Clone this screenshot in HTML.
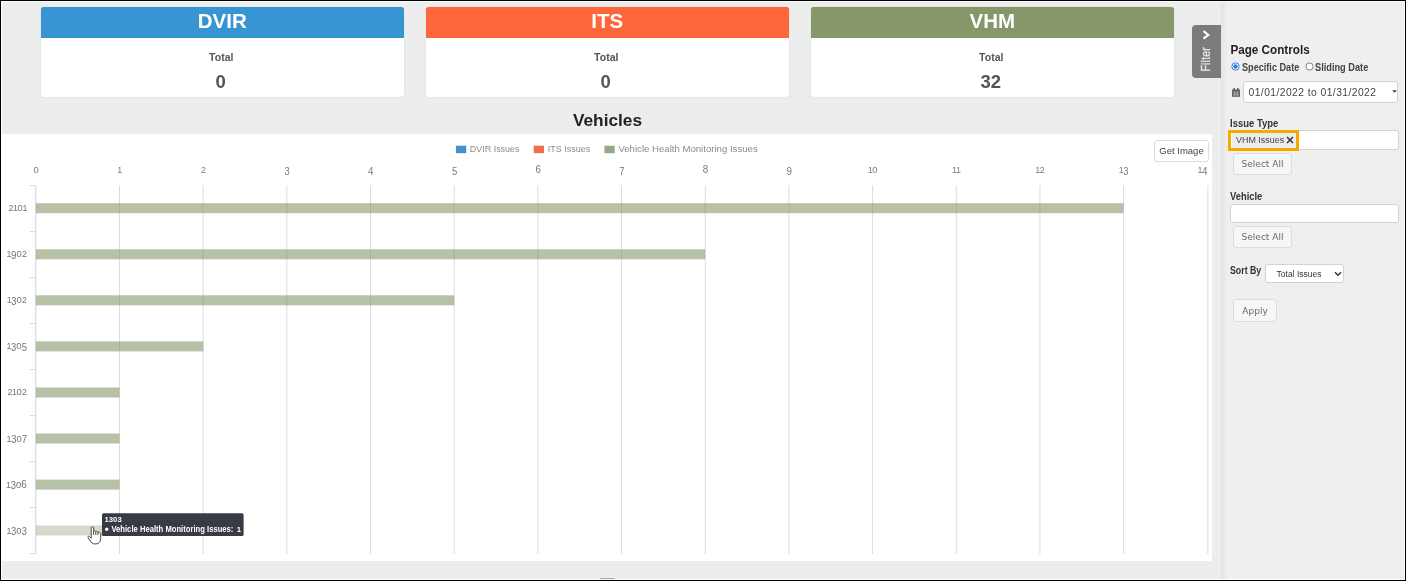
<!DOCTYPE html>
<html lang="en">
<head>
<meta charset="utf-8">
<title>Vehicles</title>
<style>
*{box-sizing:border-box;margin:0;padding:0}
html,body{width:1406px;height:581px;overflow:hidden}
body{position:relative;background:#eceeed;font-family:"Liberation Sans",sans-serif;color:#333}
.abs{position:absolute}
#frame{position:absolute;left:0;top:0;width:1406px;height:581px;border:1px solid #000;box-shadow:inset 0 0 0 1px rgba(255,255,255,.85);z-index:50;pointer-events:none}
.card{position:absolute;top:7px;height:90px;width:362.500px;background:#fff;border-radius:2.500px;overflow:hidden;box-shadow:0 0 1px rgba(0,0,0,.25)}
.card .hd{height:31px;color:#fff;font-weight:bold;font-size:20.5px;line-height:31px;text-align:center}
.card .hd span{position:relative;top:-2px}
.card .tl{position:absolute;left:-2px;right:0;top:43px;text-align:center;font-weight:bold;font-size:10.5px;line-height:14px;color:#555}
.card .vl{position:absolute;left:-3px;right:0;top:65px;text-align:center;font-weight:bold;font-size:18.5px;line-height:20px;color:#555}
#title{position:absolute;left:1px;width:1213px;top:110px;text-align:center;font-weight:bold;font-size:17.300px;transform:translateY(-.700px);line-height:22px;color:#222}
#chart{position:absolute;left:1px;top:134px;width:1211px;height:427px;background:#fff}
#side{position:absolute;left:1221px;top:1px;width:184px;height:579px;background:linear-gradient(to right,#e3e3e3 0,#e9e9e9 3px,#efefef 7px,#efefef 100%)}
#ftab{position:absolute;left:1192px;top:25px;width:29px;height:53px;background:#7b7b7b;border-radius:4px 0 0 4px}

#getimg{position:absolute;left:1154px;top:140px;width:55px;height:22px;background:#fff;border:1px solid #dcdcdc;border-radius:3px;font-size:9.5px;line-height:20px;text-align:center;color:#444;white-space:nowrap}
#ftab svg{position:absolute;left:0;top:0}
.lbl{position:absolute;left:1230px;font-weight:bold;font-size:9.5px;line-height:12px;color:#333;white-space:nowrap;transform-origin:0 50%}
.inp{position:absolute;background:#fff;border:1px solid #d2d2d2;border-radius:3px}
.btn{position:absolute;background:#f6f6f6;border:1px solid #dcdcdc;border-radius:3px;color:#6a6a6a;font-family:"DejaVu Sans","Liberation Sans",sans-serif;font-size:9px;text-align:center;white-space:nowrap}
</style>
</head>
<body>
<div class="card" style="left:41px"><div class="hd" style="background:#3895d3"><span>DVIR</span></div><div class="tl">Total</div><div class="vl">0</div></div>
<div class="card" style="left:425.500px;width:363.500px"><div class="hd" style="background:#fe663b"><span>ITS</span></div><div class="tl">Total</div><div class="vl">0</div></div>
<div class="card" style="left:811px"><div class="hd" style="background:#86986a"><span>VHM</span></div><div class="tl">Total</div><div class="vl">32</div></div>
<div id="title">Vehicles</div>
<div id="chart"><svg id="csvg" width="1211" height="427" viewBox="1 134 1211 427" style="position:absolute;left:0;top:0;font-family:'Liberation Sans',sans-serif">
<line x1="35.80" y1="185.5" x2="35.80" y2="554" stroke="#cfcfdf" stroke-width="1"/>
<line x1="119.48" y1="185.5" x2="119.48" y2="554" stroke="#dbdbdb" stroke-width="1"/>
<line x1="203.16" y1="185.5" x2="203.16" y2="554" stroke="#dbdbdb" stroke-width="1"/>
<line x1="286.84" y1="185.5" x2="286.84" y2="554" stroke="#dbdbdb" stroke-width="1"/>
<line x1="370.52" y1="185.5" x2="370.52" y2="554" stroke="#dbdbdb" stroke-width="1"/>
<line x1="454.20" y1="185.5" x2="454.20" y2="554" stroke="#dbdbdb" stroke-width="1"/>
<line x1="537.88" y1="185.5" x2="537.88" y2="554" stroke="#dbdbdb" stroke-width="1"/>
<line x1="621.56" y1="185.5" x2="621.56" y2="554" stroke="#dbdbdb" stroke-width="1"/>
<line x1="705.24" y1="185.5" x2="705.24" y2="554" stroke="#dbdbdb" stroke-width="1"/>
<line x1="788.92" y1="185.5" x2="788.92" y2="554" stroke="#dbdbdb" stroke-width="1"/>
<line x1="872.60" y1="185.5" x2="872.60" y2="554" stroke="#dbdbdb" stroke-width="1"/>
<line x1="956.28" y1="185.5" x2="956.28" y2="554" stroke="#dbdbdb" stroke-width="1"/>
<line x1="1039.96" y1="185.5" x2="1039.96" y2="554" stroke="#dbdbdb" stroke-width="1"/>
<line x1="1123.64" y1="185.5" x2="1123.64" y2="554" stroke="#dbdbdb" stroke-width="1"/>
<line x1="1207.90" y1="185.5" x2="1207.90" y2="554" stroke="#dbdbdb" stroke-width="1"/>
<line x1="29.5" y1="185.5" x2="35.8" y2="185.5" stroke="#dedede" stroke-width="1"/>
<line x1="29.5" y1="231.5" x2="35.8" y2="231.5" stroke="#dedede" stroke-width="1"/>
<line x1="29.5" y1="277.5" x2="35.8" y2="277.5" stroke="#dedede" stroke-width="1"/>
<line x1="29.5" y1="323.5" x2="35.8" y2="323.5" stroke="#dedede" stroke-width="1"/>
<line x1="29.5" y1="369.5" x2="35.8" y2="369.5" stroke="#dedede" stroke-width="1"/>
<line x1="29.5" y1="415.5" x2="35.8" y2="415.5" stroke="#dedede" stroke-width="1"/>
<line x1="29.5" y1="461.5" x2="35.8" y2="461.5" stroke="#dedede" stroke-width="1"/>
<line x1="29.5" y1="507.5" x2="35.8" y2="507.5" stroke="#dedede" stroke-width="1"/>
<line x1="29.5" y1="553.5" x2="35.8" y2="553.5" stroke="#dedede" stroke-width="1"/>
<text fill="#7a7a7a"><tspan x="33.45" y="173.20" font-size="8.80" textLength="5.29" lengthAdjust="spacingAndGlyphs">0</tspan></text>
<text fill="#7a7a7a"><tspan x="117.28" y="173.20" font-size="8.80" textLength="5.00" lengthAdjust="spacingAndGlyphs">1</tspan></text>
<text fill="#7a7a7a"><tspan x="201.01" y="173.20" font-size="8.80" textLength="4.90" lengthAdjust="spacingAndGlyphs">2</tspan></text>
<text fill="#7a7a7a"><tspan x="284.52" y="174.50" font-size="10.47" textLength="5.24" lengthAdjust="spacingAndGlyphs">3</tspan></text>
<text fill="#7a7a7a"><tspan x="368.08" y="174.50" font-size="10.47" textLength="5.49" lengthAdjust="spacingAndGlyphs">4</tspan></text>
<text fill="#7a7a7a"><tspan x="451.88" y="174.50" font-size="10.47" textLength="5.24" lengthAdjust="spacingAndGlyphs">5</tspan></text>
<text fill="#7a7a7a"><tspan x="535.44" y="173.20" font-size="10.47" textLength="5.49" lengthAdjust="spacingAndGlyphs">6</tspan></text>
<text fill="#7a7a7a"><tspan x="619.24" y="174.50" font-size="10.47" textLength="5.24" lengthAdjust="spacingAndGlyphs">7</tspan></text>
<text fill="#7a7a7a"><tspan x="702.80" y="173.20" font-size="10.47" textLength="5.49" lengthAdjust="spacingAndGlyphs">8</tspan></text>
<text fill="#7a7a7a"><tspan x="786.48" y="174.50" font-size="10.47" textLength="5.49" lengthAdjust="spacingAndGlyphs">9</tspan></text>
<text fill="#7a7a7a"><tspan x="867.70" y="173.20" font-size="8.80" textLength="5.00" lengthAdjust="spacingAndGlyphs">1</tspan><tspan x="872.25" y="173.20" font-size="8.80" textLength="5.29" lengthAdjust="spacingAndGlyphs">0</tspan></text>
<text fill="#7a7a7a"><tspan x="952.08" y="173.20" font-size="8.80" textLength="5.00" lengthAdjust="spacingAndGlyphs">1</tspan><tspan x="956.08" y="173.20" font-size="8.80" textLength="5.00" lengthAdjust="spacingAndGlyphs">1</tspan></text>
<text fill="#7a7a7a"><tspan x="1035.26" y="173.20" font-size="8.80" textLength="5.00" lengthAdjust="spacingAndGlyphs">1</tspan><tspan x="1039.81" y="173.20" font-size="8.80" textLength="4.90" lengthAdjust="spacingAndGlyphs">2</tspan></text>
<text fill="#7a7a7a"><tspan x="1118.79" y="173.20" font-size="8.80" textLength="5.00" lengthAdjust="spacingAndGlyphs">1</tspan><tspan x="1123.32" y="174.50" font-size="10.47" textLength="5.24" lengthAdjust="spacingAndGlyphs">3</tspan></text>
<text fill="#7a7a7a"><tspan x="1197.40" y="173.20" font-size="8.80" textLength="5.00" lengthAdjust="spacingAndGlyphs">1</tspan><tspan x="1201.96" y="174.50" font-size="10.47" textLength="5.49" lengthAdjust="spacingAndGlyphs">4</tspan></text>
<rect x="35.8" y="203.2" width="1087.8" height="10" fill="#86986a" fill-opacity="0.6"/>
<text fill="#747474"><tspan x="8.55" y="211.20" font-size="8.80" textLength="4.90" lengthAdjust="spacingAndGlyphs">2</tspan><tspan x="13.00" y="211.20" font-size="8.80" textLength="5.00" lengthAdjust="spacingAndGlyphs">1</tspan><tspan x="17.55" y="211.20" font-size="8.80" textLength="5.29" lengthAdjust="spacingAndGlyphs">0</tspan><tspan x="22.40" y="211.20" font-size="8.80" textLength="5.00" lengthAdjust="spacingAndGlyphs">1</tspan></text>
<rect x="35.8" y="249.3" width="669.4" height="10" fill="#86986a" fill-opacity="0.6"/>
<text fill="#747474"><tspan x="6.40" y="257.27" font-size="8.80" textLength="5.00" lengthAdjust="spacingAndGlyphs">1</tspan><tspan x="10.96" y="258.57" font-size="10.47" textLength="5.49" lengthAdjust="spacingAndGlyphs">9</tspan><tspan x="16.55" y="257.27" font-size="8.80" textLength="5.29" lengthAdjust="spacingAndGlyphs">0</tspan><tspan x="21.95" y="257.27" font-size="8.80" textLength="4.90" lengthAdjust="spacingAndGlyphs">2</tspan></text>
<rect x="35.8" y="295.3" width="418.4" height="10" fill="#86986a" fill-opacity="0.6"/>
<text fill="#747474"><tspan x="6.70" y="303.34" font-size="8.80" textLength="5.00" lengthAdjust="spacingAndGlyphs">1</tspan><tspan x="11.23" y="304.64" font-size="10.47" textLength="5.24" lengthAdjust="spacingAndGlyphs">3</tspan><tspan x="16.55" y="303.34" font-size="8.80" textLength="5.29" lengthAdjust="spacingAndGlyphs">0</tspan><tspan x="21.95" y="303.34" font-size="8.80" textLength="4.90" lengthAdjust="spacingAndGlyphs">2</tspan></text>
<rect x="35.8" y="341.4" width="167.4" height="10" fill="#86986a" fill-opacity="0.6"/>
<text fill="#747474"><tspan x="6.40" y="349.41" font-size="8.80" textLength="5.00" lengthAdjust="spacingAndGlyphs">1</tspan><tspan x="10.93" y="350.71" font-size="10.47" textLength="5.24" lengthAdjust="spacingAndGlyphs">3</tspan><tspan x="16.25" y="349.41" font-size="8.80" textLength="5.29" lengthAdjust="spacingAndGlyphs">0</tspan><tspan x="21.63" y="350.71" font-size="10.47" textLength="5.24" lengthAdjust="spacingAndGlyphs">5</tspan></text>
<rect x="35.8" y="387.5" width="83.7" height="10" fill="#86986a" fill-opacity="0.6"/>
<text fill="#747474"><tspan x="7.55" y="395.48" font-size="8.80" textLength="4.90" lengthAdjust="spacingAndGlyphs">2</tspan><tspan x="12.00" y="395.48" font-size="8.80" textLength="5.00" lengthAdjust="spacingAndGlyphs">1</tspan><tspan x="16.55" y="395.48" font-size="8.80" textLength="5.29" lengthAdjust="spacingAndGlyphs">0</tspan><tspan x="21.95" y="395.48" font-size="8.80" textLength="4.90" lengthAdjust="spacingAndGlyphs">2</tspan></text>
<rect x="35.8" y="433.5" width="83.7" height="10" fill="#86986a" fill-opacity="0.6"/>
<text fill="#747474"><tspan x="6.60" y="441.55" font-size="8.80" textLength="5.00" lengthAdjust="spacingAndGlyphs">1</tspan><tspan x="11.13" y="442.85" font-size="10.47" textLength="5.24" lengthAdjust="spacingAndGlyphs">3</tspan><tspan x="16.45" y="441.55" font-size="8.80" textLength="5.29" lengthAdjust="spacingAndGlyphs">0</tspan><tspan x="21.73" y="442.85" font-size="10.47" textLength="5.24" lengthAdjust="spacingAndGlyphs">7</tspan></text>
<rect x="35.8" y="479.6" width="83.7" height="10" fill="#86986a" fill-opacity="0.6"/>
<text fill="#747474"><tspan x="6.10" y="487.61" font-size="8.80" textLength="5.00" lengthAdjust="spacingAndGlyphs">1</tspan><tspan x="10.63" y="488.91" font-size="10.47" textLength="5.24" lengthAdjust="spacingAndGlyphs">3</tspan><tspan x="15.95" y="487.61" font-size="8.80" textLength="5.29" lengthAdjust="spacingAndGlyphs">0</tspan><tspan x="21.36" y="487.61" font-size="10.47" textLength="5.49" lengthAdjust="spacingAndGlyphs">6</tspan></text>
<rect x="35.8" y="525.5" width="83.7" height="10" fill="#86986a" fill-opacity="0.36"/>
<text fill="#747474"><tspan x="6.40" y="533.50" font-size="8.80" textLength="5.00" lengthAdjust="spacingAndGlyphs">1</tspan><tspan x="10.93" y="534.80" font-size="10.47" textLength="5.24" lengthAdjust="spacingAndGlyphs">3</tspan><tspan x="16.25" y="533.50" font-size="8.80" textLength="5.29" lengthAdjust="spacingAndGlyphs">0</tspan><tspan x="21.63" y="534.80" font-size="10.47" textLength="5.24" lengthAdjust="spacingAndGlyphs">3</tspan></text>
<rect x="455.9" y="145.7" width="10.3" height="7.5" fill="#4590c9"/>
<text x="469.7" y="152.3" font-size="9.3" fill="#8a8a8a" textLength="49.9" lengthAdjust="spacingAndGlyphs">DVIR Issues</text>
<rect x="533.7" y="145.7" width="10.3" height="7.5" fill="#ea6e50"/>
<text x="547.8" y="152.3" font-size="9.3" fill="#8a8a8a" textLength="42.5" lengthAdjust="spacingAndGlyphs">ITS Issues</text>
<rect x="604.4" y="145.7" width="10.3" height="7.5" fill="#96a783"/>
<text x="618.4" y="152.3" font-size="9.3" fill="#8a8a8a" textLength="139.3" lengthAdjust="spacingAndGlyphs">Vehicle Health Monitoring Issues</text>
<rect x="102" y="513.3" width="141.6" height="22.7" rx="1.5" fill="#383b43"/>
<text x="104.5" y="522.4" font-size="8.1" font-weight="bold" fill="#fff" textLength="17.2" lengthAdjust="spacingAndGlyphs">1303</text>
<circle cx="106.7" cy="529.3" r="1.7" fill="#fff"/>
<text y="532.1" font-size="8.6" font-weight="bold" fill="#fff"><tspan x="111.4" textLength="122" lengthAdjust="spacingAndGlyphs">Vehicle Health Monitoring Issues:</tspan><tspan x="234.6" font-size="7.8"> 1</tspan></text>
</svg></div>

<div id="getimg">Get Image</div>
<svg class="abs" style="left:86.500px;top:525.800px" width="16" height="20" viewBox="0 0 16 20"><path d="M4.200 1.700C4.200 0.500 6.600 0.500 6.600 1.700L6.600 5.300C7.300 4.500 8.700 4.700 8.800 5.700C9.500 5.100 10.900 5.400 10.900 6.400C11.700 5.900 13.700 6.200 13.700 7.900L13.700 12.500C13.700 16 11.500 17.900 9 17.900L7.500 17.900C5.500 17.900 4.300 16.600 3.200 14.900L1 11.700C0.300 10.600 1.600 9.700 2.600 10.700L4.200 12.300Z" fill="#fff" stroke="#4a4a4a" stroke-width="1" stroke-linejoin="round"/><path d="M6.600 5.300v3.600M8.800 5.700v3.200M10.900 6.400v2.700" fill="none" stroke="#333" stroke-width=".900"/></svg>
<div id="ftab"><svg width="29" height="53" viewBox="0 0 29 53"><path d="M11.500 6.200l4.800 3.700-4.800 3.700" fill="none" stroke="#fff" stroke-width="2.100"/><text transform="translate(18.200 46.500) rotate(-90) scale(.86 1)" font-family="Liberation Sans,sans-serif" font-size="12" fill="#e6e6e6" stroke="#e6e6e6" stroke-width=".350" letter-spacing="0.300">Filter</text></svg></div>
<div id="side"></div>
<div class="abs" style="left:1230px;top:42px;font-weight:bold;font-size:12px;line-height:16px;color:#222;white-space:nowrap;transform-origin:0 50%;transform:translate(0.400px,-0.400px) scaleX(.975)">Page Controls</div>
<svg class="abs" style="left:1231px;top:62px" width="9" height="9" viewBox="0 0 9 9"><circle cx="4.500" cy="4.500" r="3.700" fill="#fff" stroke="#2f7fe0" stroke-width="1"/><circle cx="4.500" cy="4.500" r="2.200" fill="#2f7fe0"/></svg>
<div class="lbl" style="left:1241.500px;top:61.500px;color:#444;font-size:10.200px;transform:scaleX(.895)">Specific Date</div>
<svg class="abs" style="left:1304.700px;top:62px" width="9" height="9" viewBox="0 0 9 9"><circle cx="4.500" cy="4.500" r="3.600" fill="#fff" stroke="#777" stroke-width="0.900"/></svg>
<div class="lbl" style="left:1314.700px;top:61.500px;color:#444;font-size:10.200px;transform:scaleX(.905)">Sliding Date</div>
<svg class="abs" style="left:1232px;top:88px" width="8" height="9" viewBox="0 0 8 9"><path d="M0 1.500h8v7.300H0zM1.500 0h1.400v2H1.500zM5.100 0h1.400v2H5.100z" fill="#5a5a5a"/><path d="M0 3.300h8" stroke="#8a8a8a" stroke-width="0.600" fill="none"/><path d="M0.800 5h6.400M0.800 6.900h6.400M2.700 3.600v4.800M5.300 3.600v4.800" stroke="#bdbdbd" stroke-width="0.700" fill="none"/></svg>
<div class="inp" style="left:1243px;top:81px;width:155px;height:22px;font-size:10.300px;line-height:21px;padding-left:4.500px;color:#444;letter-spacing:0.440px;white-space:nowrap">01/01/2022 to 01/31/2022</div>
<svg class="abs" style="left:1391.700px;top:90.300px" width="5" height="3" viewBox="0 0 5 3"><path d="M0.300 0.200h4.400L2.500 2.800z" fill="#333"/></svg>
<div class="lbl" style="top:118px;font-size:10.400px;transform:translateY(.300px) scaleX(.913)">Issue Type</div>
<div class="inp" style="left:1230px;top:130px;width:169px;height:20px"></div>
<div class="abs" style="left:1232px;top:133px;width:64px;height:15px;background:#ececec;border-radius:2px"></div>
<div class="abs" style="left:1235.700px;top:134px;font-size:9.600px;line-height:12px;color:#444;white-space:nowrap;transform-origin:0 50%;transform:scaleX(.93)">VHM Issues</div>
<svg class="abs" style="left:1286px;top:136px" width="8" height="8" viewBox="0 0 8 8"><path d="M1 1l6 6M7 1L1 7" stroke="#333" stroke-width="1.500" fill="none"/></svg>
<div class="abs" style="left:1228px;top:130px;width:71px;height:21px;border:3px solid #f6a700"></div>
<div class="btn" style="left:1233px;top:153px;width:59px;height:22px;line-height:20px">Select All</div>
<div class="lbl" style="top:191px;font-size:10.400px;transform:translateY(.300px) scaleX(.9)">Vehicle</div>
<div class="inp" style="left:1230px;top:204px;width:169px;height:19px"></div>
<div class="btn" style="left:1233px;top:226px;width:59px;height:22px;line-height:20px">Select All</div>
<div class="lbl" style="top:265px;font-size:10.400px;transform:translateY(.300px) scaleX(.845)">Sort By</div>
<div class="inp" style="left:1265px;top:264px;width:79px;height:19px;font-size:8.500px;line-height:19px;padding-left:10.600px;color:#333;white-space:nowrap">Total Issues</div>
<svg class="abs" style="left:1333.500px;top:270.600px" width="8" height="6" viewBox="0 0 8 6"><path d="M1 1.200l3 3 3-3" fill="none" stroke="#333" stroke-width="1.500"/></svg>
<div class="btn" style="left:1233px;top:299px;width:43.500px;height:22.500px;line-height:21.500px"><span style="display:inline-block;transform:translate(.300px,.700px)">Apply</span></div>
<div class="abs" style="left:600px;top:578px;width:15px;height:2px;background:#aaa;border-radius:1px"></div>

<div id="frame"></div>
</body>
</html>
